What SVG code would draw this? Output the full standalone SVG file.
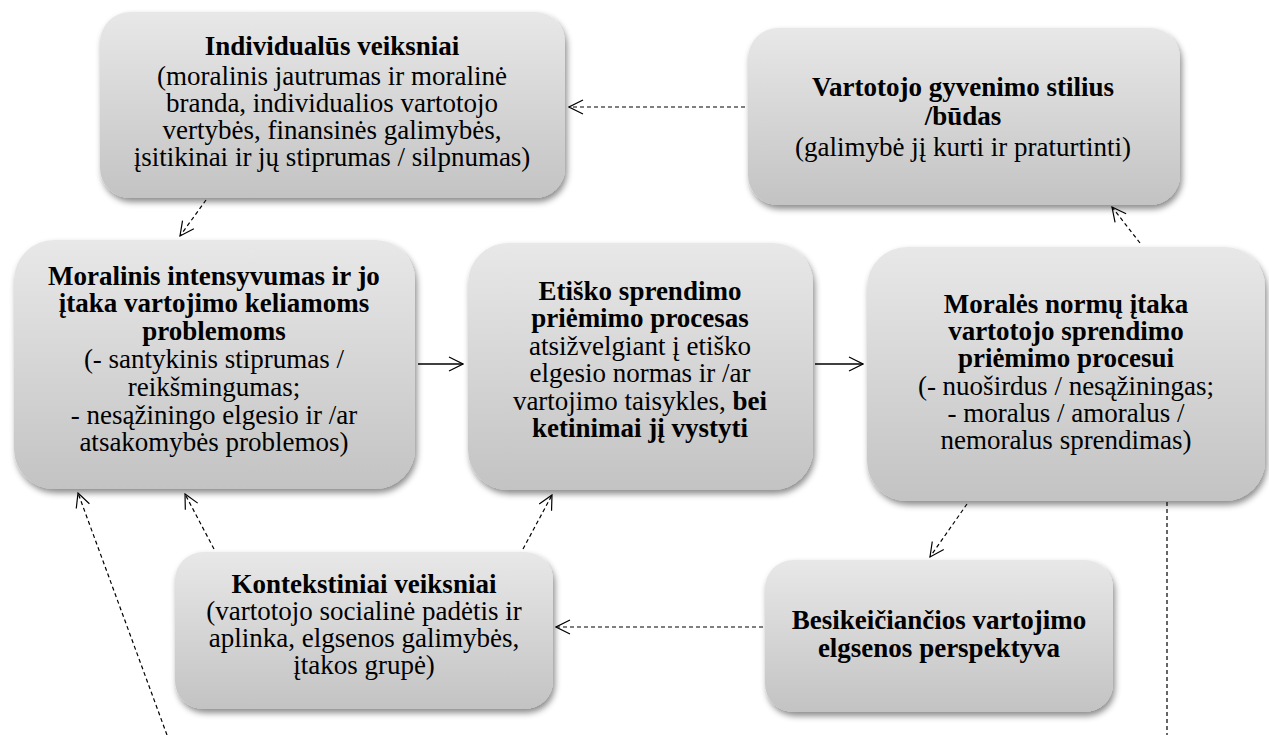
<svg xmlns="http://www.w3.org/2000/svg" width="1269" height="735" viewBox="0 0 1269 735">
<defs>
<linearGradient id="g" x1="0" y1="0" x2="0" y2="1">
<stop offset="0" stop-color="#e8e8e8"/>
<stop offset="1" stop-color="#c3c3c3"/>
</linearGradient>
<filter id="sh" x="-10%" y="-10%" width="125%" height="130%">
<feDropShadow dx="2" dy="4" stdDeviation="3" flood-color="#000" flood-opacity="0.45"/>
</filter>
<marker id="ah" viewBox="0 0 16 16" refX="15" refY="8" markerWidth="16" markerHeight="16" markerUnits="userSpaceOnUse" orient="auto">
<path d="M1,1 L15,8 L1,15" fill="none" stroke="#000" stroke-width="1.2"/>
</marker>
</defs>
<style>
.box{fill:url(#g);filter:url(#sh);}
.t text{font-size:27px;fill:#000;text-anchor:middle;}
.b{font-weight:bold;}
.d{fill:none;stroke:#000;stroke-width:1.2;stroke-dasharray:4,3;}
.s{fill:none;stroke:#000;stroke-width:1.4;}
</style>
<rect width="1269" height="735" fill="#fff"/>
<g id="connectors">
<line class="d" x1="745" y1="107" x2="569" y2="107" marker-end="url(#ah)"/>
<line class="d" x1="206" y1="200" x2="180" y2="236" marker-end="url(#ah)"/>
<line class="s" x1="418" y1="364" x2="463" y2="364" marker-end="url(#ah)"/>
<line class="s" x1="815" y1="364" x2="863" y2="364" marker-end="url(#ah)"/>
<line class="d" x1="1140" y1="243" x2="1112" y2="207" marker-end="url(#ah)"/>
<line class="d" x1="967" y1="504" x2="930" y2="557" marker-end="url(#ah)"/>
<line class="d" x1="763" y1="627" x2="556" y2="627" marker-end="url(#ah)"/>
<line class="d" x1="214" y1="549" x2="185" y2="494" marker-end="url(#ah)"/>
<line class="d" x1="523" y1="549" x2="552" y2="495" marker-end="url(#ah)"/>
<line class="d" x1="167" y1="735" x2="78" y2="493" marker-end="url(#ah)"/>
<line class="d" x1="1167" y1="502" x2="1167" y2="735"/>
</g>
<g class="t" font-family="Liberation Serif, DejaVu Serif, serif">
<g id="n1">
<rect class="box" x="100" y="12" width="465" height="186" rx="30"/>
<text x="332" y="55" class="b">Individualūs veiksniai</text>
<text x="332" y="85">(moralinis jautrumas ir moralinė</text>
<text x="332" y="112">branda, individualios vartotojo</text>
<text x="332" y="139">vertybės, finansinės galimybės,</text>
<text x="332" y="166">įsitikinai ir jų stiprumas / silpnumas)</text>
</g>
<g id="n2">
<rect class="box" x="748" y="28" width="432" height="177" rx="30"/>
<text x="963" y="96" class="b">Vartotojo gyvenimo stilius</text>
<text x="963" y="125" class="b">/būdas</text>
<text x="963" y="156">(galimybė jį kurti ir praturtinti)</text>
</g>
<g id="n3">
<rect class="box" x="14" y="240" width="401" height="249" rx="40"/>
<text x="214" y="285" class="b">Moralinis intensyvumas ir jo</text>
<text x="214" y="312" class="b">įtaka vartojimo keliamoms</text>
<text x="214" y="340" class="b">problemoms</text>
<text x="214" y="368">(- santykinis stiprumas /</text>
<text x="214" y="396">reikšmingumas;</text>
<text x="214" y="424">- nesąžiningo elgesio ir /ar</text>
<text x="214" y="451">atsakomybės problemos)</text>
</g>
<g id="n4">
<rect class="box" x="468" y="243" width="345" height="247" rx="40"/>
<text x="640" y="300" class="b">Etiško sprendimo</text>
<text x="640" y="327" class="b">priėmimo procesas</text>
<text x="640" y="355">atsižvelgiant į etiško</text>
<text x="640" y="382">elgesio normas ir /ar</text>
<text x="640" y="410">vartojimo taisykles, <tspan class="b">bei</tspan></text>
<text x="640" y="437" class="b">ketinimai jį vystyti</text>
</g>
<g id="n5">
<rect class="box" x="867" y="247" width="398" height="254" rx="40"/>
<text x="1066" y="313" class="b">Moralės normų įtaka</text>
<text x="1066" y="340" class="b">vartotojo sprendimo</text>
<text x="1066" y="367" class="b">priėmimo procesui</text>
<text x="1066" y="395">(- nuoširdus / nesąžiningas;</text>
<text x="1066" y="422">- moralus / amoralus /</text>
<text x="1066" y="449">nemoralus sprendimas)</text>
</g>
<g id="n6">
<rect class="box" x="175" y="552" width="378" height="157" rx="28"/>
<text x="364" y="593" class="b">Kontekstiniai veiksniai</text>
<text x="364" y="620">(vartotojo socialinė padėtis ir</text>
<text x="364" y="647">aplinka, elgsenos galimybės,</text>
<text x="364" y="674">įtakos grupė)</text>
</g>
<g id="n7">
<rect class="box" x="765" y="560" width="348" height="152" rx="28"/>
<text x="939" y="629" class="b">Besikeičiančios vartojimo</text>
<text x="939" y="657" class="b">elgsenos perspektyva</text>
</g>
</g>
</svg>
